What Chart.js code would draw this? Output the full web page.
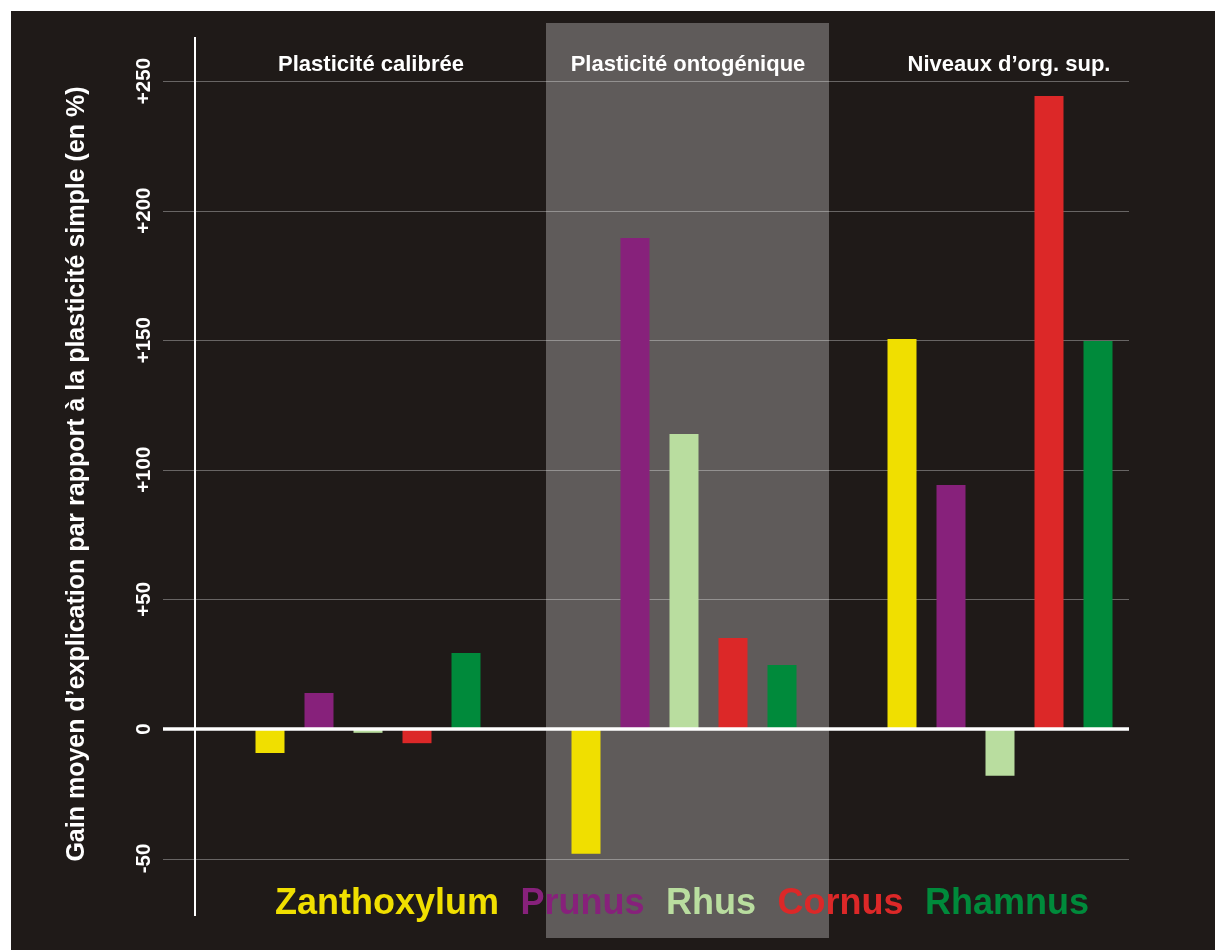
<!DOCTYPE html>
<html>
<head>
<meta charset="utf-8">
<script src="https://cdn.jsdelivr.net/npm/chart.js@4/dist/chart.umd.min.js"></script>
<style>
  html, body { margin: 0; padding: 0; background: #ffffff; }
  #wrap { width: 1215px; height: 950px; }
</style>
</head>
<body>
<div id="wrap"><canvas id="c" width="1215" height="950"></canvas></div>
<script>
// ---- data ----
const categories = ['Plasticité calibrée', 'Plasticité ontogénique', 'Niveaux d’org. sup.'];
const seriesNames = ['Zanthoxylum', 'Prunus', 'Rhus', 'Cornus', 'Rhamnus'];
const zanthoxylum = [-9.3, -48.2, 150.5];
const prunus = [13.9, 189.4, 94.1];
const rhus = [-1.5, 113.8, -18.1];
const cornus = [-5.5, 35.1, 244.2];
const rhamnus = [29.3, 24.7, 149.7];
const tickValues = [-50, 0, 50, 100, 150, 200, 250];
const tickLabels = ['-50', '0', '+50', '+100', '+150', '+200', '+250'];
const yTitle = 'Gain moyen d’explication par rapport à la plasticité simple (en %)';

// ---- styles ----
const seriesColors = ['#f0df00', '#87217b', '#b9dd9f', '#dc2828', '#008a3b'];
const BG = '#1f1a18';
const BAND = '#5f5b5a';
const FONT = '"Liberation Sans", Arial, sans-serif';

const seriesValues = [zanthoxylum, prunus, rhus, cornus, rhamnus];

const decor = {
  id: 'decor',
  beforeDraw(chart) {
    const ctx = chart.ctx;
    const x = chart.scales.x;
    ctx.save();
    ctx.fillStyle = '#ffffff';
    ctx.fillRect(0, 0, chart.width, chart.height);
    ctx.fillStyle = BG;
    ctx.fillRect(11, 11, chart.width - 11, chart.height - 11);
    const cx = x.getPixelForValue(1) + 3.5;
    ctx.fillStyle = BAND;
    ctx.fillRect(cx - 141.5, 23, 283, 915);
    ctx.restore();
  },
  beforeDatasetsDraw(chart) {
    const ctx = chart.ctx;
    const x = chart.scales.x;
    const y = chart.scales.y;
    const area = chart.chartArea;
    ctx.save();
    ctx.strokeStyle = 'rgba(255,255,255,0.33)';
    ctx.lineWidth = 1;
    tickValues.forEach(v => {
      if (v === 0) return;
      const py = Math.round(y.getPixelForValue(v)) + 0.5;
      ctx.beginPath();
      ctx.moveTo(163, py);
      ctx.lineTo(1129, py);
      ctx.stroke();
    });
    ctx.strokeStyle = '#ffffff';
    ctx.lineWidth = 2;
    ctx.beginPath();
    ctx.moveTo(195, area.top);
    ctx.lineTo(195, area.bottom + 1);
    ctx.stroke();
    ctx.fillStyle = '#ffffff';
    ctx.font = 'bold 20.5px ' + FONT;
    ctx.textAlign = 'center';
    ctx.textBaseline = 'alphabetic';
    tickValues.forEach((v, i) => {
      const py = y.getPixelForValue(v);
      ctx.save();
      ctx.translate(150, py);
      ctx.rotate(-Math.PI / 2);
      ctx.fillText(tickLabels[i], 0, 0);
      ctx.restore();
    });
    ctx.font = 'bold 25px ' + FONT;
    ctx.save();
    ctx.translate(84, 474);
    ctx.rotate(-Math.PI / 2);
    ctx.fillText(yTitle, 0, 0);
    ctx.restore();
    ctx.font = 'bold 22px ' + FONT;
    const headerShift = [3, 4, 9];
    categories.forEach((c, i) => {
      ctx.fillText(c, x.getPixelForValue(i) + headerShift[i], 71);
    });
    ctx.restore();
  },
  afterDatasetsDraw(chart) {
    const ctx = chart.ctx;
    const y = chart.scales.y;
    ctx.save();
    const py = y.getPixelForValue(0);
    ctx.strokeStyle = '#ffffff';
    ctx.lineWidth = 3.5;
    ctx.beginPath();
    ctx.moveTo(163, py);
    ctx.lineTo(1129, py);
    ctx.stroke();
    ctx.font = 'bold 36px ' + FONT;
    ctx.textBaseline = 'alphabetic';
    ctx.textAlign = 'left';
    const gap = 21.5;
    const widths = seriesNames.map(n => ctx.measureText(n).width);
    const total = widths.reduce((a, b) => a + b, 0) + gap * (seriesNames.length - 1);
    let lx = 682 - total / 2;
    seriesNames.forEach((n, i) => {
      ctx.fillStyle = seriesColors[i];
      ctx.fillText(n, lx, 914);
      lx += widths[i] + gap;
    });
    ctx.restore();
  }
};

new Chart(document.getElementById('c'), {
  type: 'bar',
  data: {
    labels: categories,
    datasets: seriesNames.map((name, i) => ({
      label: name,
      data: seriesValues[i],
      backgroundColor: seriesColors[i],
      borderWidth: 0,
      categoryPercentage: 0.7753,
      barPercentage: 0.592
    }))
  },
  options: {
    responsive: false,
    animation: false,
    devicePixelRatio: 1,
    layout: { padding: { left: 210, right: 57, top: 37, bottom: 35 } },
    plugins: { legend: { display: false }, tooltip: { enabled: false } },
    scales: {
      x: { display: false },
      y: { display: false, min: -71.8, max: 267 }
    }
  },
  plugins: [decor]
});
</script>
</body>
</html>
